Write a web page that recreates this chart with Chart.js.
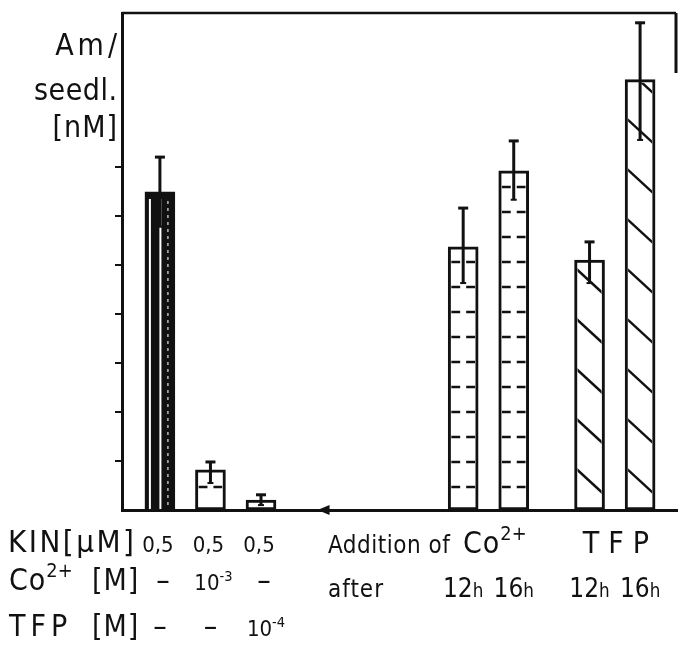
<!DOCTYPE html>
<html><head><meta charset="utf-8">
<script src="https://cdn.jsdelivr.net/npm/chart.js@4.4.1/dist/chart.umd.min.js"></script>
<style>html,body{margin:0;padding:0;background:#fff;}canvas{display:block;}</style>
</head><body>
<canvas id="c" width="678" height="652"></canvas>
<script>
// ---------------- data ----------------
const categories = ['KIN 0,5 µM', 'KIN 0,5 µM + Co²⁺ 10⁻³ M', 'KIN 0,5 µM + TFP 10⁻⁴ M',
                    'Co²⁺ added after 12h', 'Co²⁺ added after 16h', 'TFP added after 12h', 'TFP added after 16h'];
const amValues = [6.49, 0.82, 0.20, 5.37, 6.92, 5.10, 8.78];
const errHigh  = [7.20, 0.98, 0.31, 6.16, 7.53, 5.47, 9.94];
const errLow   = [5.78, 0.55, 0.10, 4.63, 6.33, 4.63, 7.55];
const yTickValues = [1, 2, 3, 4, 5, 6, 7];
const kinRow = ['0,5', '0,5', '0,5', '', '', '', ''];
const coRow  = ['–', '10⁻³', '–', '12h', '16h', '12h', '16h'];
const tfpRow = ['–', '–', '10⁻⁴', '', '', '', ''];
const rowHeaders = [['KIN[µM]'], ['Co²⁺', '[M]'], ['TFP', '[M]']];
const yTitle = ['Am/', 'seedl.', '[nM]'];
const groupTitles = ['Addition of', 'Co²⁺', 'TFP'];
const groupSubtitle = 'after';

// ---------------- layout / style ----------------
const FONT = "'DejaVu Sans Condensed','DejaVu Sans',sans-serif";
const INK = '#111';
const slotCount = 22;
const barSlots = [1, 3, 5, 13, 15, 18, 20];
const hatch = ['stripes', 'dashes', 'diag', 'dashes', 'dashes', 'diag', 'diag'];

const labels = Array.from({length: slotCount}, (_, i) => {
  const k = barSlots.indexOf(i); return k >= 0 ? categories[k] : '';
});
const barData = labels.map((_, i) => {
  const k = barSlots.indexOf(i); return k >= 0 ? amValues[k] : null;
});
const barFill = labels.map((_, i) => barSlots.indexOf(i) === 0 ? INK : '#fff');

const SUP = {'⁰':'0','¹':'1','²':'2','³':'3','⁴':'4','⁵':'5','⁶':'6','⁷':'7','⁸':'8','⁹':'9','⁻':'-','⁺':'+'};
function parts(text, size, ls) {
  const m = text.match(/^(\d+)h$/);
  if (m) return [{t: m[1], size, ls: 0}, {t: 'h', size: size * 0.72, ls: 0}];
  const out = [];
  for (const ch of text) {
    const sup = SUP[ch] !== undefined;
    const last = out[out.length - 1];
    if (last && last.sup === sup) last.t += sup ? SUP[ch] : ch;
    else out.push({t: sup ? SUP[ch] : ch, sup, size: sup ? size * 0.66 : size,
                   dy: sup ? -size * 0.42 : 0, ls: sup ? 0 : (ls || 0)});
  }
  return out;
}
function drawText(ctx, text, x, y, size, align, ls) {
  const ps = parts(text, size, ls);
  let w = 0;
  ps.forEach(p => {
    ctx.font = `${p.size}px ${FONT}`; ctx.letterSpacing = (p.ls || 0) + 'px';
    p.w = ctx.measureText(p.t).width; w += p.w;
  });
  if (ps.length) w -= (ps[ps.length - 1].ls || 0);
  let cx = align === 'center' ? x - w / 2 : align === 'right' ? x - w : x;
  ps.forEach(p => {
    ctx.font = `${p.size}px ${FONT}`; ctx.letterSpacing = (p.ls || 0) + 'px';
    ctx.fillText(p.t, cx, y + (p.dy || 0)); cx += p.w;
  });
  ctx.letterSpacing = '0px';
}

const decor = {
  id: 'decor',
  afterDatasetsDraw(chart) {
    const {ctx, chartArea: ca, scales: {x, y}} = chart;
    const meta = chart.getDatasetMeta(0);
    ctx.save();
    ctx.strokeStyle = INK; ctx.fillStyle = INK; ctx.lineCap = 'butt';
    // frame (top + partial right border)
    ctx.lineWidth = 2.5;
    ctx.beginPath(); ctx.moveTo(ca.left, ca.top); ctx.lineTo(ca.right - 2, ca.top); ctx.stroke();
    ctx.lineWidth = 3;
    ctx.beginPath(); ctx.moveTo(ca.right - 2, ca.top); ctx.lineTo(ca.right - 2, ca.top + 60); ctx.stroke();

    barSlots.forEach((slot, k) => {
      const el = meta.data[slot];
      const {x: bx, y: by, base, width} = el.getProps(['x', 'y', 'base', 'width'], true);
      const l = bx - width / 2 + 3, r = bx + width / 2 - 3, t = by + 3, b = base - 1;
      ctx.save();
      ctx.beginPath(); ctx.rect(l, t, r - l, b - t); ctx.clip();
      if (hatch[k] === 'stripes') {
        ctx.strokeStyle = '#fff';
        ctx.lineWidth = 2;
        [2, 12.5].forEach(o => {
          ctx.beginPath(); ctx.moveTo(l + o, t + 4); ctx.lineTo(l + o, b); ctx.stroke();
        });
        ctx.lineWidth = 1.5; ctx.strokeStyle = '#bbb'; ctx.setLineDash([3, 4]);
        ctx.beginPath(); ctx.moveTo(l + 20, t + 6); ctx.lineTo(l + 20, b); ctx.stroke();
        ctx.setLineDash([]);
      } else if (hatch[k] === 'dashes') {
        ctx.lineWidth = 2.5;
        for (let yy = base - 23; yy > t; yy -= 25) {
          ctx.beginPath();
          ctx.moveTo(l, yy); ctx.lineTo(bx - 3, yy);
          ctx.moveTo(bx + 3, yy); ctx.lineTo(r, yy);
          ctx.stroke();
        }
      } else if (hatch[k] === 'diag') {
        ctx.lineWidth = 2.5;
        const s = 0.92;
        for (let yl = base + 10; yl > t - 60; yl -= 50) {
          ctx.beginPath(); ctx.moveTo(l - 4, yl - 4 * s); ctx.lineTo(r + 4, yl + (r - l + 4) * s); ctx.stroke();
        }
      }
      ctx.restore();
      // error bar
      const yh = y.getPixelForValue(errHigh[k]);
      const yl = y.getPixelForValue(errLow[k]);
      ctx.strokeStyle = INK; ctx.lineWidth = 3;
      ctx.beginPath(); ctx.moveTo(bx, yl); ctx.lineTo(bx, yh); ctx.stroke();
      ctx.lineWidth = 3;
      ctx.beginPath(); ctx.moveTo(bx - 5, yh); ctx.lineTo(bx + 5, yh); ctx.stroke();
      ctx.lineWidth = 2;
      ctx.beginPath(); ctx.moveTo(bx - 3, yl); ctx.lineTo(bx + 3, yl); ctx.stroke();
    });

    // arrow on the baseline
    const ax = x.getPixelForValue(7) + 6, ay = ca.bottom;
    ctx.beginPath(); ctx.moveTo(ax, ay); ctx.lineTo(ax + 12, ay - 5); ctx.lineTo(ax + 12, ay + 5); ctx.closePath(); ctx.fill();
    ctx.restore();
  },
  afterDraw(chart) {
    const {ctx, chartArea: ca, scales: {x}} = chart;
    ctx.save();
    ctx.fillStyle = INK; ctx.textBaseline = 'alphabetic';
    const bxs = barSlots.map(s => x.getPixelForValue(s));
    // y-axis title
    const tx = ca.left - 5;
    drawText(ctx, yTitle[0], tx, 55, 30, 'right', 4);
    drawText(ctx, yTitle[1], tx, 100, 30, 'right', 0.5);
    drawText(ctx, yTitle[2], tx, 137, 30, 'right', 1);
    // row headers
    const rowY = [552, 590, 636];
    drawText(ctx, rowHeaders[0][0], 8, rowY[0], 31, 'left', 2.5);
    drawText(ctx, rowHeaders[1][0], 9, rowY[1], 30, 'left', 1);
    drawText(ctx, rowHeaders[1][1], 92, rowY[1], 30, 'left', 1);
    drawText(ctx, rowHeaders[2][0], 9, rowY[2], 30, 'left', 5);
    drawText(ctx, rowHeaders[2][1], 92, rowY[2], 30, 'left', 1);
    // per-bar cells
    kinRow.forEach((t, k) => { if (t) drawText(ctx, t, bxs[k] - 2, rowY[0], 22, 'center'); });
    coRow.forEach((t, k) => {
      if (!t) return;
      const big = /h$/.test(t);
      const sz = t === '–' ? 30 : big ? 26 : 22;
      drawText(ctx, t, bxs[k] + (big ? 0 : 3), big ? 597 : rowY[1], sz, 'center');
    });
    tfpRow.forEach((t, k) => {
      if (!t) return;
      const sz = t === '–' ? 30 : 22;
      drawText(ctx, t, bxs[k] + (t === '–' ? 0 : 5), rowY[2], sz, 'center');
    });
    // group titles
    drawText(ctx, groupTitles[0], 328, 553, 24, 'left', 0.5);
    drawText(ctx, groupTitles[1], 463, 553, 30, 'left', 1);
    drawText(ctx, groupTitles[2], (bxs[5] + bxs[6]) / 2 + 1, 553, 30, 'center', 9);
    drawText(ctx, groupSubtitle, 328, 597, 24, 'left', 1);
    ctx.restore();
  }
};

new Chart(document.getElementById('c'), {
  type: 'bar',
  data: {
    labels,
    datasets: [{
      data: barData,
      backgroundColor: barFill,
      borderColor: INK,
      borderWidth: 3,
      borderSkipped: false,
      barThickness: 30
    }]
  },
  options: {
    responsive: false,
    animation: false,
    devicePixelRatio: 1,
    layout: {padding: {top: 13, right: 0, bottom: 0, left: 0}},
    plugins: {legend: {display: false}, tooltip: {enabled: false}},
    scales: {
      x: {
        afterFit: s => { s.height = 142; },
        ticks: {display: false},
        grid: {display: false, drawTicks: false},
        border: {display: true, color: INK, width: 3}
      },
      y: {
        min: 0, max: 10.14,
        afterBuildTicks: s => { s.ticks = yTickValues.map(v => ({value: v})); },
        afterFit: s => { s.width = 122; },
        ticks: {display: false},
        grid: {drawOnChartArea: false, drawTicks: true, tickLength: 7, color: INK, lineWidth: 2},
        border: {display: true, color: INK, width: 3}
      }
    }
  },
  plugins: [decor]
});
</script>
</body></html>
